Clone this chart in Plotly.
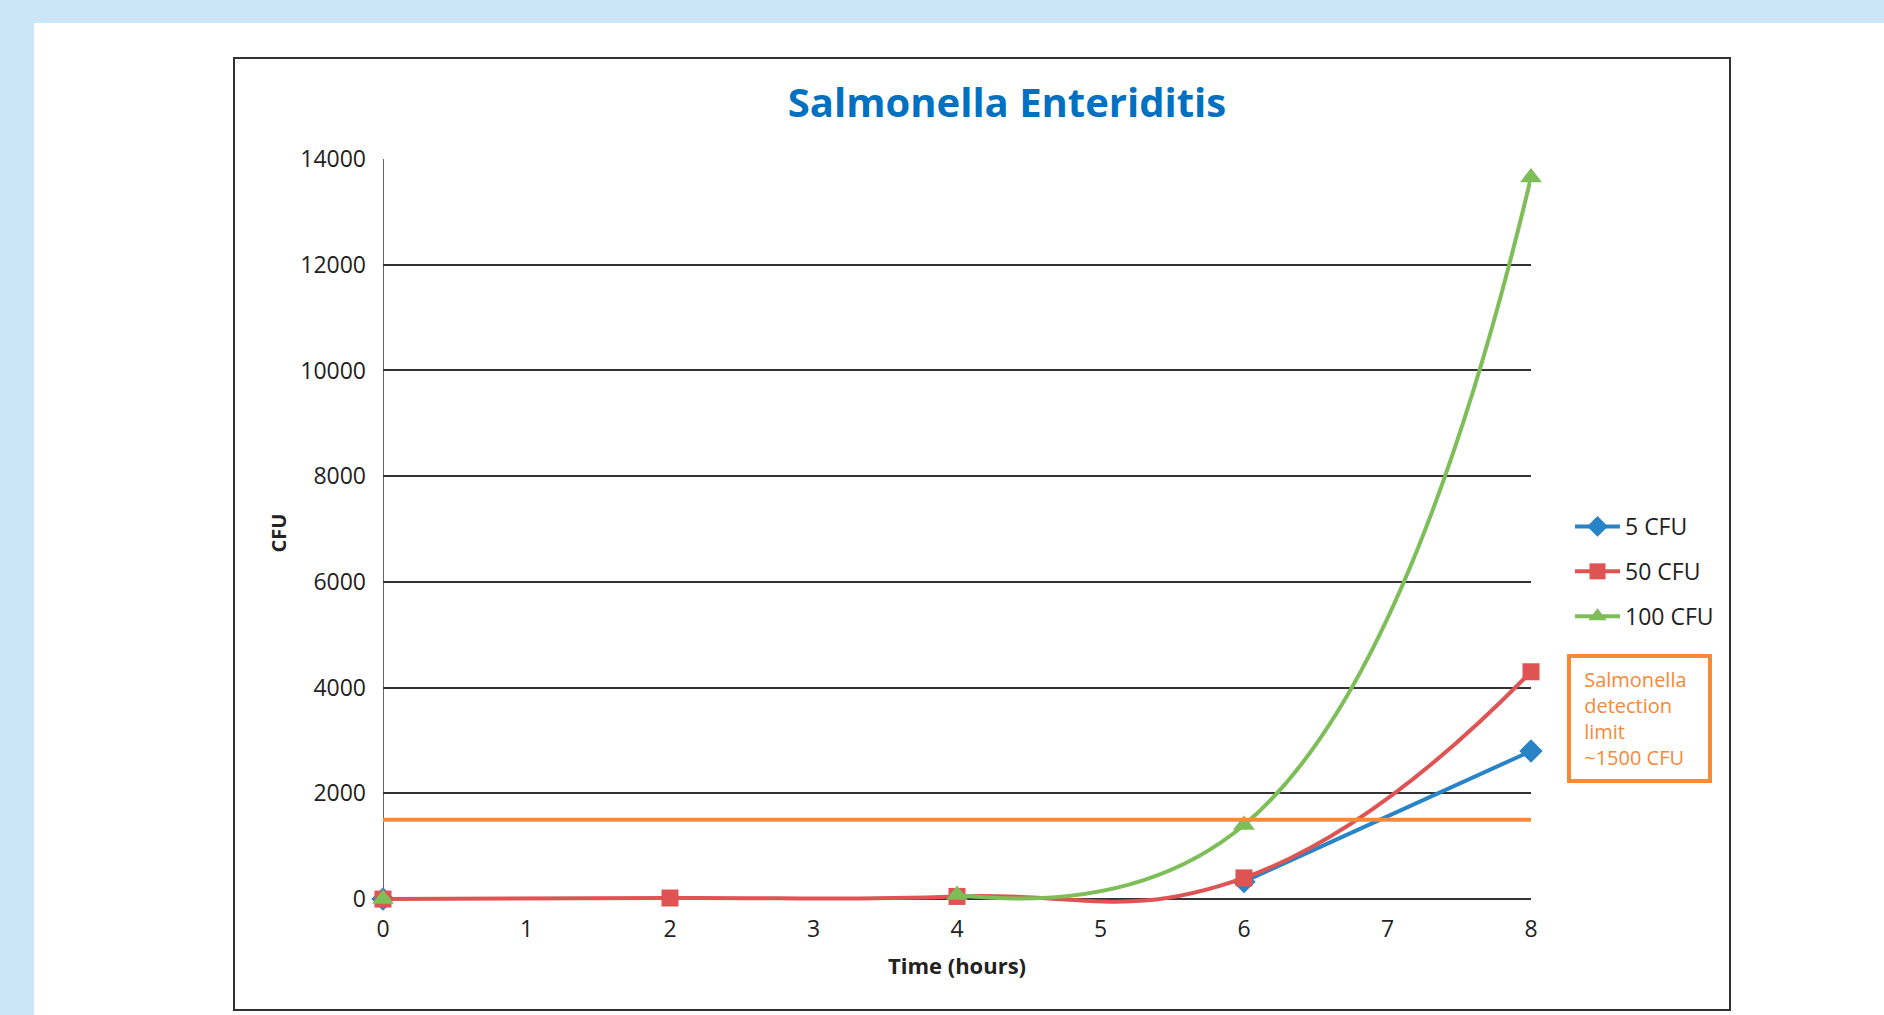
import plotly.graph_objects as go

# ---- data ----
hours = [0, 2, 4, 6, 8]
cfu_5 = [0, None, None, 330, 2800]
cfu_50 = [0, 20, 50, 400, 4300]
cfu_100 = [0, None, 75, 1400, 13650]
series_names = ["5 CFU", "50 CFU", "100 CFU"]
detection_limit = 1500
detection_x = [0, 8]
x_ticks = [0, 1, 2, 3, 4, 5, 6, 7, 8]
y_ticks = [0, 2000, 4000, 6000, 8000, 10000, 12000, 14000]

# ---- styling ----
W, H = 1884, 1015
L, R, T, B = 383, 1531, 159, 907  # plot area pixel box
FONT = "Open Sans"
BLUE, RED, GREEN, ORANGE = "#2884C6", "#E05353", "#7DBE58", "#F58A38"


def px_x(p):
    return (p - L) / (R - L)


def px_y(p):
    return (B - p) / (B - T)


fig = go.Figure()
styles = [
    (cfu_5, BLUE, "diamond", 18),
    (cfu_50, RED, "square", 17),
    (cfu_100, GREEN, "triangle-up", 19),
]
for name, (vals, col, sym, sz) in zip(series_names, styles):
    fig.add_trace(go.Scatter(
        x=hours, y=vals, name=name, legendgroup=name,
        mode="lines+markers", connectgaps=False,
        line=dict(color=col, width=4, shape="spline", smoothing=1.3),
        marker=dict(symbol=sym, size=sz, color=col, line=dict(width=0)),
        cliponaxis=False, hoverinfo="skip",
    ))

fig.add_trace(go.Scatter(
    x=detection_x, y=[detection_limit] * len(detection_x),
    mode="lines", line=dict(color=ORANGE, width=4),
    showlegend=False, hoverinfo="skip",
))

shapes = [
    # white panel
    dict(type="rect", xref="paper", yref="paper",
         x0=px_x(34), x1=px_x(1900), y0=px_y(1030), y1=px_y(23),
         fillcolor="white", line=dict(width=0), layer="below"),
    # chart border
    dict(type="rect", xref="paper", yref="paper",
         x0=px_x(234), x1=px_x(1730), y0=px_y(1010), y1=px_y(58),
         fillcolor="rgba(0,0,0,0)", line=dict(color="#333333", width=2),
         layer="below"),
    # y axis line
    dict(type="line", xref="x", yref="y", x0=0, x1=0, y0=0, y1=y_ticks[-1],
         line=dict(color="#333333", width=1.5), layer="below"),
]

fig.update_layout(
    width=W, height=H,
    margin=dict(l=L, r=W - R, t=T, b=H - B, autoexpand=False),
    paper_bgcolor="#CCE6F7", plot_bgcolor="white",
    font=dict(family=FONT, color="#222222", size=23),
    title=dict(text="<b>Salmonella Enteriditis</b>",
               font=dict(family=FONT, size=40, color="#0070C0"),
               xref="paper", x=px_x(1007), xanchor="center",
               yref="container", y=1 - 103 / H, yanchor="middle"),
    xaxis=dict(range=[0, 8], tickvals=x_ticks, showgrid=False, zeroline=False,
               showline=False, ticks="", ticklabelstandoff=6,
               tickfont=dict(size=23, color="#222222"),
               title=dict(text="<b>Time (hours)</b>", font=dict(size=22, color="#222222"),
                          standoff=15)),
    yaxis=dict(range=[-150, 14000], tickvals=y_ticks, tickformat="d", showgrid=True,
               gridcolor="#333333", gridwidth=1.5, zeroline=False,
               showline=False, ticks="", ticklabelstandoff=16,
               tickfont=dict(size=23, color="#222222"),
               title=dict(text="<b>CFU</b>", font=dict(size=20, color="#222222"),
                          standoff=8)),
    legend=dict(x=px_x(1570), xanchor="left", y=px_y(505), yanchor="top",
                traceorder="grouped", tracegroupgap=12,
                font=dict(size=23, color="#222222"),
                bgcolor="rgba(0,0,0,0)", itemwidth=45),
    shapes=shapes,
    annotations=[dict(
        text="&nbsp;Salmonella<br>&nbsp;detection<br>&nbsp;limit<br>&nbsp;~1500 CFU",
        xref="paper", yref="paper", x=px_x(1639.5), y=px_y(718),
        xanchor="center", yanchor="middle", align="left",
        showarrow=False, width=121, borderpad=8, borderwidth=4,
        bordercolor=ORANGE, font=dict(size=20, color=ORANGE, family=FONT),
    )],
    showlegend=True,
)

fig.write_html(
    "out.html",
    config={"displayModeBar": False},
    post_script="document.body.style.margin='0';document.body.style.overflow='hidden';",
)
